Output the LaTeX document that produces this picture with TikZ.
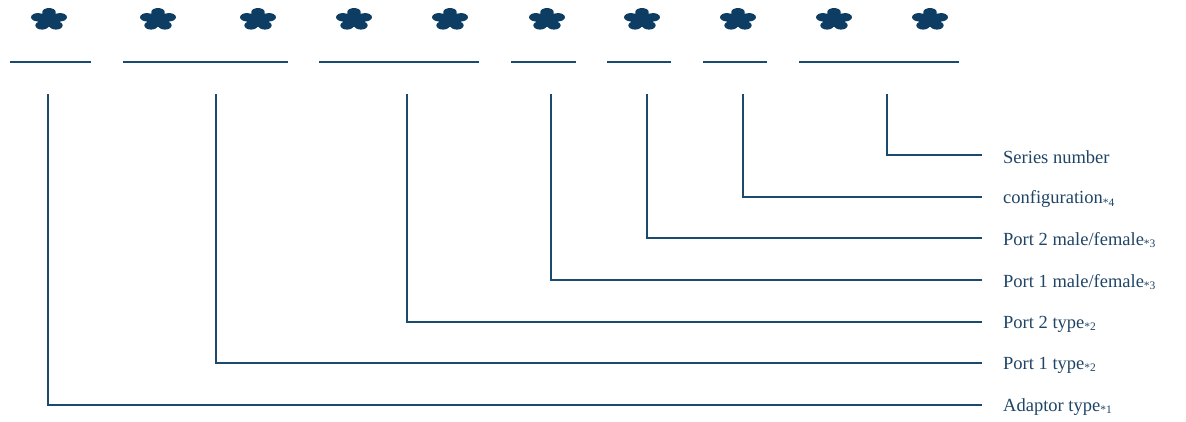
\documentclass[tikz,border=0pt]{standalone}
\usepackage{fontspec}
\setmainfont{Liberation Serif}
\definecolor{ink}{HTML}{0E3D63}
\definecolor{wire}{HTML}{1B4A6F}
\definecolor{txt}{HTML}{1F4466}
\begin{document}
\begin{tikzpicture}[x=1pt,y=-1pt,
  uline/.style={draw=wire,line width=1.4pt},
  wire/.style={draw=wire,line width=1.6pt},
  lab/.style={anchor=west,inner sep=0pt,text=txt,font=\fontsize{18.5}{20}\selectfont},
  flower/.pic={
    \begin{scope}[scale=1.07,yscale=0.62]
      \fill[ink] (0,0) circle (7);
      \foreach \a in {90,162,234,306,18}{
        \fill[ink,rotate=\a] (0,-4.6) rectangle (11,4.6);
        \fill[ink] (\a:11) circle (6.3);
      }
    \end{scope}
  }]
\useasboundingbox (0,0) rectangle (1186,421);
% asterisks
\foreach \n/\x in {1/49,2/158,3/258,4/354,5/450,6/547,7/642,8/738,9/834,10/930}
  \path (\x,19.5) pic[yscale=-1] {flower};
% underlines
\foreach \n/\a/\b in {1/10/91,2/123/288,3/319/479,4/511/576,5/607/671,6/703/767,7/799/959}{
  \coordinate (ua\n) at (\a,62);
  \coordinate (ub\n) at (\b,62);
  \draw[uline] (ua\n) -- (ub\n);
}
% label nodes
\newcommand{\subn}[1]{\raisebox{-0.3ex}{\fontsize{11.5}{11.5}\selectfont *#1}}
\node[lab] (l7) at (1003,157) {Series number};
\node[lab] (l6) at (1003,199) {configuration\subn{4}};
\node[lab] (l5) at (1003,240) {Port 2 male/female\subn{3}};
\node[lab] (l4) at (1003,282) {Port 1 male/female\subn{3}};
\node[lab] (l3) at (1003,324) {Port 2 type\subn{2}};
\node[lab] (l2) at (1003,365) {Port 1 type\subn{2}};
\node[lab] (l1) at (1003,407) {Adaptor type\subn{1}};
% tops of leader lines
\foreach \n/\x in {1/48,2/216,3/407,4/551,5/647,6/743,7/887}
  \coordinate (t\n) at (\x,94);
\foreach \n/\y in {1/405,2/363,3/322,4/280,5/238,6/197,7/155}{
  \coordinate (e\n) at (982,\y);
  \draw[wire] (t\n) |- (e\n);
}
\end{tikzpicture}
\end{document}
